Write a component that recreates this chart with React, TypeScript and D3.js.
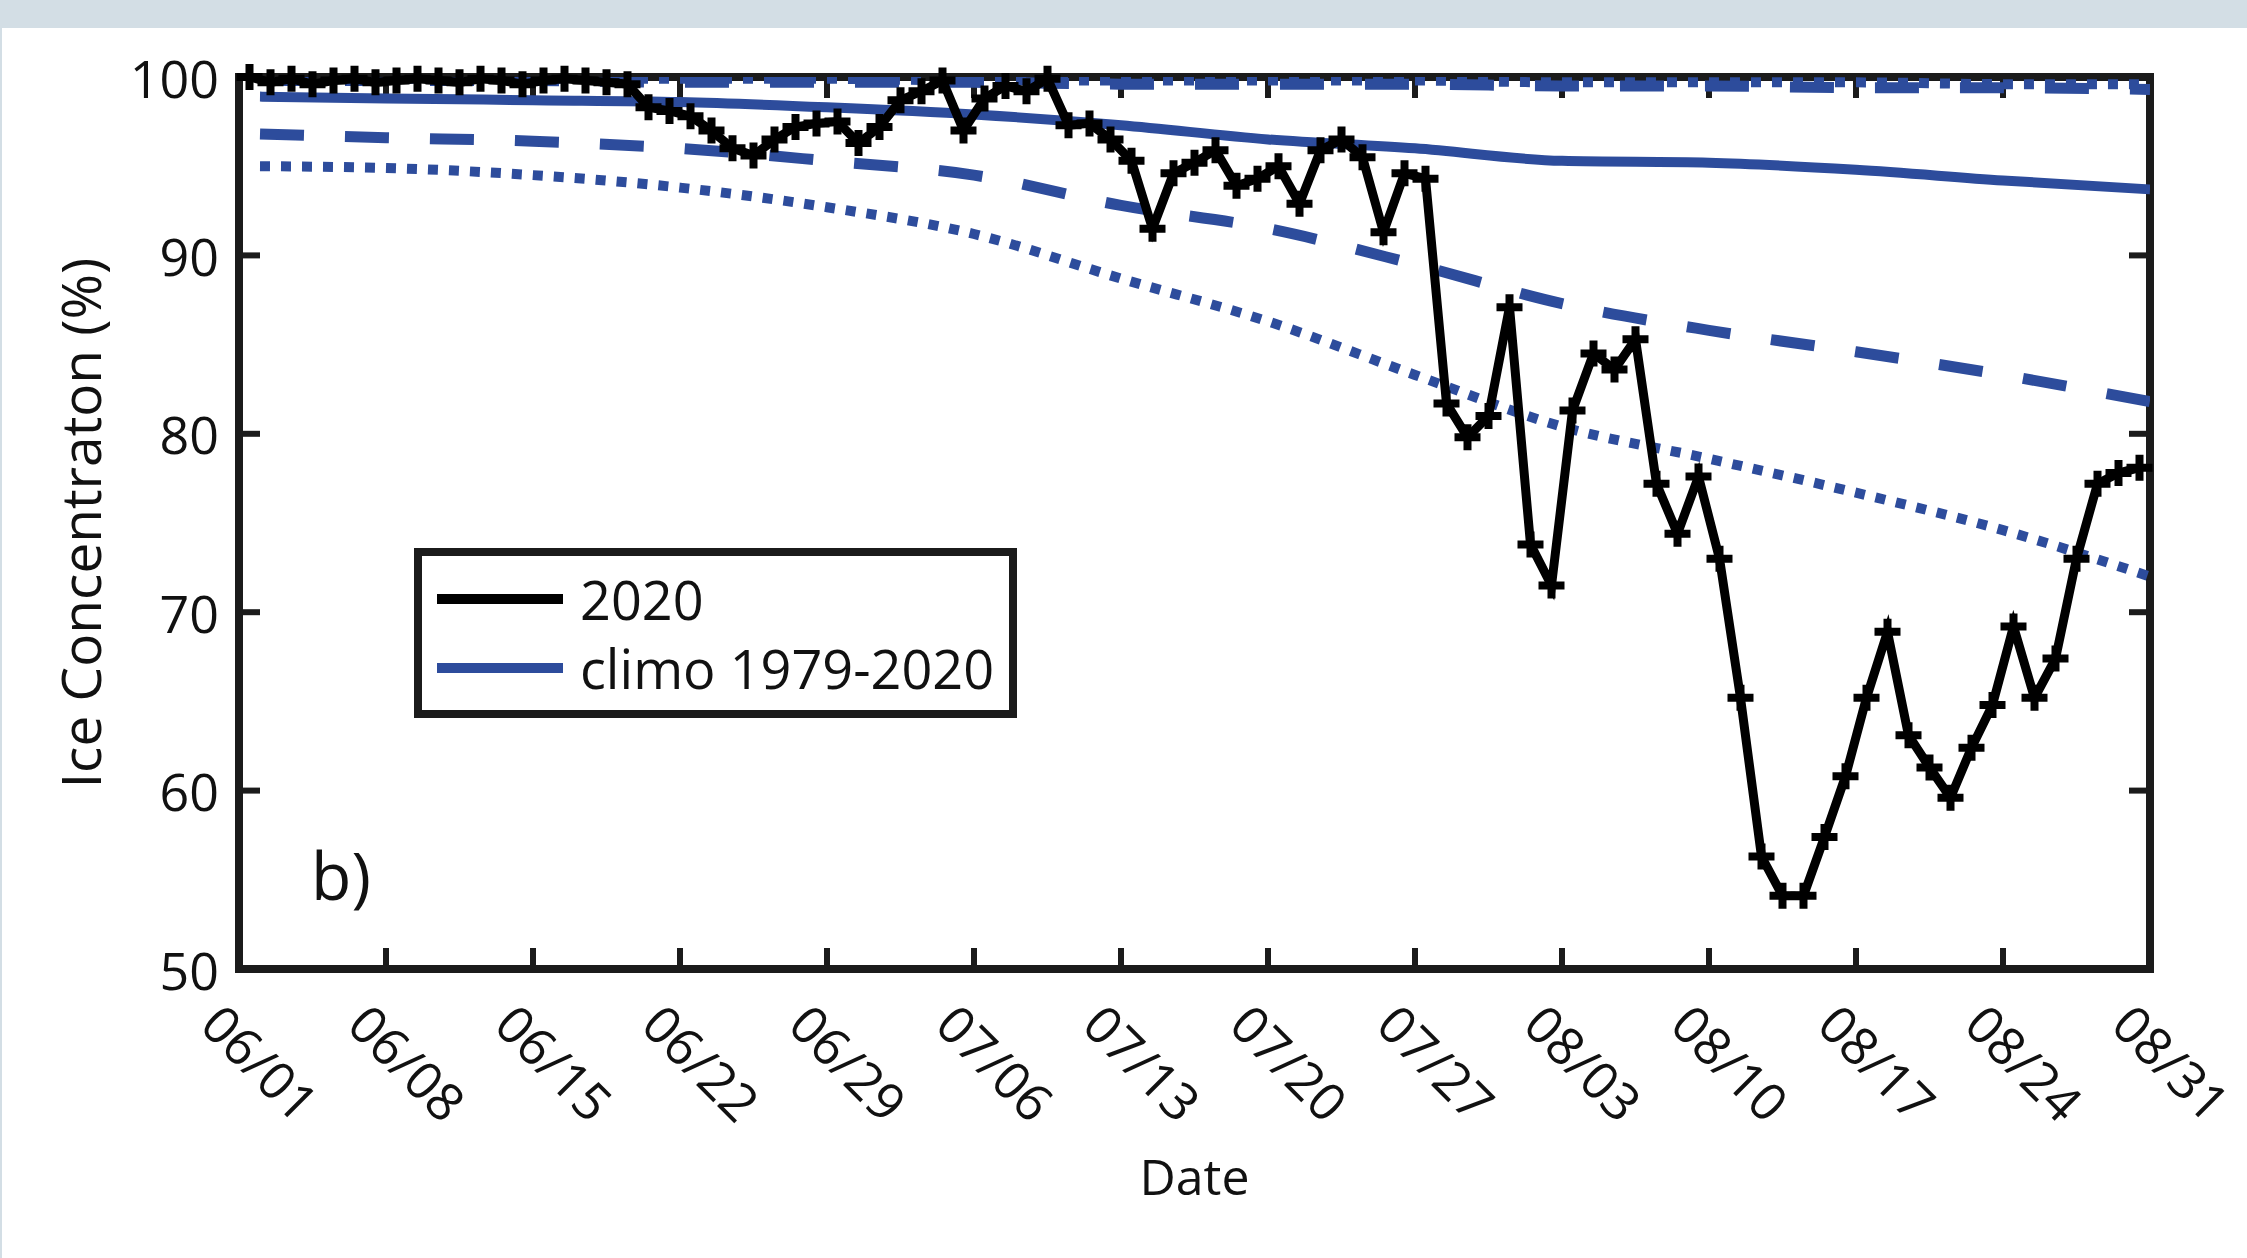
import React from "react";
import * as d3 from "d3";

// 2020 daily ice concentration (%), one value per day from 06/01 (plotted at noon)
const obsStart = "2020/06/01";
const obs2020 = [
	100, 99.7, 99.9, 99.6, 99.8, 99.9, 99.7, 99.8, 99.9, 99.8,
	99.7, 99.9, 99.8, 99.6, 99.8, 99.9, 99.8, 99.7, 99.6, 98.3,
	98.1, 97.8, 97.0, 96.0, 95.6, 96.5, 97.2, 97.4, 97.5, 96.3,
	97.2, 98.7, 99.2, 99.8, 97.0, 98.8, 99.5, 99.2, 99.9, 97.3,
	97.4, 96.5, 95.3, 91.5, 94.6, 95.2, 95.9, 93.9, 94.3, 95.0,
	92.9, 95.9, 96.5, 95.5, 91.3, 94.6, 94.3, 81.7, 79.8, 81.0,
	87.1, 73.8, 71.5, 81.3, 84.5, 83.6, 85.3, 77.2, 74.4, 77.6,
	73.0, 65.2, 56.3, 54.1, 54.1, 57.4, 60.8, 65.2, 68.9, 63.1,
	61.3, 59.6, 62.4, 64.8, 69.2, 65.2, 67.4, 73.0, 77.2, 77.8,
	78.1,
];

// climatology 1979-2020, read at weekly points (day offset from 06/01)
const climoDays = [1, 7, 14, 21, 28, 35, 42, 49, 56, 63, 70, 77, 84, 91];
const climoMid = [98.9, 98.8, 98.7, 98.6, 98.3, 97.9, 97.3, 96.5, 96.0, 95.3, 95.2, 94.8, 94.2, 93.7];
const climoLowDash = [96.8, 96.6, 96.4, 96.0, 95.3, 94.5, 92.8, 91.5, 89.5, 87.3, 85.8, 84.6, 83.3, 81.8];
const climoLowDot = [95.0, 94.9, 94.5, 93.8, 92.7, 91.2, 88.7, 86.3, 83.3, 80.4, 78.6, 76.7, 74.6, 72.0];
const climoHighDash = [99.8, 99.8, 99.8, 99.7, 99.7, 99.7, 99.6, 99.6, 99.6, 99.5, 99.5, 99.4, 99.4, 99.3];
const climoHighDot = [99.9, 99.9, 99.9, 99.9, 99.9, 99.8, 99.8, 99.8, 99.8, 99.7, 99.7, 99.7, 99.6, 99.6];

const xTickLabels = ["06/01", "06/08", "06/15", "06/22", "06/29", "07/06", "07/13", "07/20", "07/27", "08/03", "08/10", "08/17", "08/24", "08/31"];
const yTicks = [50, 60, 70, 80, 90, 100];
const legendLabels = ["2020", "climo 1979-2020"];

const W = 2247;
const H = 1258;
const BLUE = "#2d4c9c";
const INK = "#1b1b1b";
const FONT = "'Open Sans', sans-serif";

const parse = d3.timeParse("%Y/%m/%d");
const start = parse(obsStart) as Date;
const dayMs = 24 * 3600 * 1000;

export default function App() {
	// Scales
	const x = d3
		.scaleTime()
		.domain([start, parse("2020/08/31") as Date])
		.range([239, 2150]);
	const y = d3.scaleLinear().domain([50, 100]).range([969, 77]);

	const [x0, x1] = x.range();
	const [yb, yt] = y.range();

	const obsPts = obs2020.map((v, i) => ({ d: new Date(start.getTime() + (i + 0.5) * dayMs), v }));
	const obsLine = d3
		.line<{ d: Date; v: number }>()
		.x(p => x(p.d))
		.y(p => y(p.v));

	const climoLine = (vals: number[]) =>
		d3
			.line<number>()
			.curve(d3.curveMonotoneX)
			.x((_, i) => x(new Date(start.getTime() + climoDays[i] * dayMs)))
			.y(v => y(v))(vals) as string;

	const tickDates = xTickLabels.map(s => parse("2020/" + s) as Date);

	const climo = [
		{ vals: climoHighDot, dash: "10 11", w: 10 },
		{ vals: climoHighDash, dash: "44 41", w: 11 },
		{ vals: climoLowDot, dash: "10 11", w: 10 },
		{ vals: climoLowDash, dash: "44 41", w: 11 },
		{ vals: climoMid, dash: "none", w: 10 },
	];

	const m = 13; // marker half size

	return (
		<svg width={W} height={H} style={{ position: "absolute", left: 0, top: 0, background: "#fff" }}>
			<rect x={0} y={0} width={W} height={28} fill="#d3dee5" />
			<rect x={0} y={28} width={2} height={H - 28} fill="#d3dee5" />

			<defs>
				<clipPath id="plot">
					<rect x={x0} y={yt} width={x1 - x0} height={yb - yt} />
				</clipPath>
			</defs>

			{/* axes box + ticks */}
			<rect x={x0} y={yt} width={x1 - x0} height={yb - yt} fill="none" stroke={INK} strokeWidth={8} />
			{tickDates.map((d, i) => (
				<g key={"xt" + i} stroke={INK} strokeWidth={6}>
					<line x1={x(d)} x2={x(d)} y1={yb} y2={yb - 21} />
					<line x1={x(d)} x2={x(d)} y1={yt} y2={yt + 21} />
				</g>
			))}
			{yTicks.map(t => (
				<g key={"yt" + t} stroke={INK} strokeWidth={6}>
					<line x1={x0} x2={x0 + 21} y1={y(t)} y2={y(t)} />
					<line x1={x1} x2={x1 - 21} y1={y(t)} y2={y(t)} />
				</g>
			))}

			{/* climatology */}
			<g clipPath="url(#plot)" fill="none" stroke={BLUE}>
				{climo.map((c, i) => (
					<path key={"c" + i} d={climoLine(c.vals)} strokeWidth={c.w} strokeDasharray={c.dash} />
				))}
			</g>

			{/* 2020 */}
			<path d={obsLine(obsPts) as string} fill="none" stroke="#000" strokeWidth={9} strokeLinejoin="miter" />
			<g stroke="#000" strokeWidth={8}>
				{obsPts.map((p, i) => (
					<path key={"m" + i} d={`M${x(p.d) - m},${y(p.v)}H${x(p.d) + m}M${x(p.d)},${y(p.v) - m}V${y(p.v) + m}`} />
				))}
			</g>

			{/* tick labels */}
			<g fontFamily={FONT} fontSize={52} fill="#111">
				{yTicks.map(t => (
					<text key={"yl" + t} x={x0 - 20} y={y(t)} textAnchor="end" dominantBaseline="central">
						{t}
					</text>
				))}
				{tickDates.map((d, i) => (
					<text
						key={"xl" + i}
						x={x(d) + 22}
						y={1062}
						textAnchor="middle"
						dominantBaseline="central"
						transform={`rotate(45, ${x(d) + 22}, 1062)`}
					>
						{xTickLabels[i]}
					</text>
				))}
			</g>

			{/* axis labels */}
			<text x={(x0 + x1) / 2} y={1176} textAnchor="middle" dominantBaseline="central" fontFamily={FONT} fontSize={50} fill="#111">
				Date
			</text>
			<text
				transform={`translate(79, ${(yt + yb) / 2}) rotate(-90)`}
				textAnchor="middle"
				dominantBaseline="central"
				fontFamily={FONT}
				fontSize={55}
				fill="#111"
			>
				Ice Concentraton (%)
			</text>

			<text x={341} y={874} textAnchor="middle" dominantBaseline="central" fontFamily={FONT} fontSize={66} fill="#111">
				b)
			</text>

			{/* legend */}
			<rect x={418} y={552} width={595} height={162} fill="#fff" stroke={INK} strokeWidth={8} />
			{legendLabels.map((l, i) => (
				<g key={"lg" + i}>
					<line x1={437} x2={563} y1={599 + i * 69} y2={599 + i * 69} stroke={i === 0 ? "#000" : BLUE} strokeWidth={10} />
					<text x={580} y={599 + i * 69} dominantBaseline="central" fontFamily={FONT} fontSize={54} fill="#111">
						{l}
					</text>
				</g>
			))}
		</svg>
	);
}
